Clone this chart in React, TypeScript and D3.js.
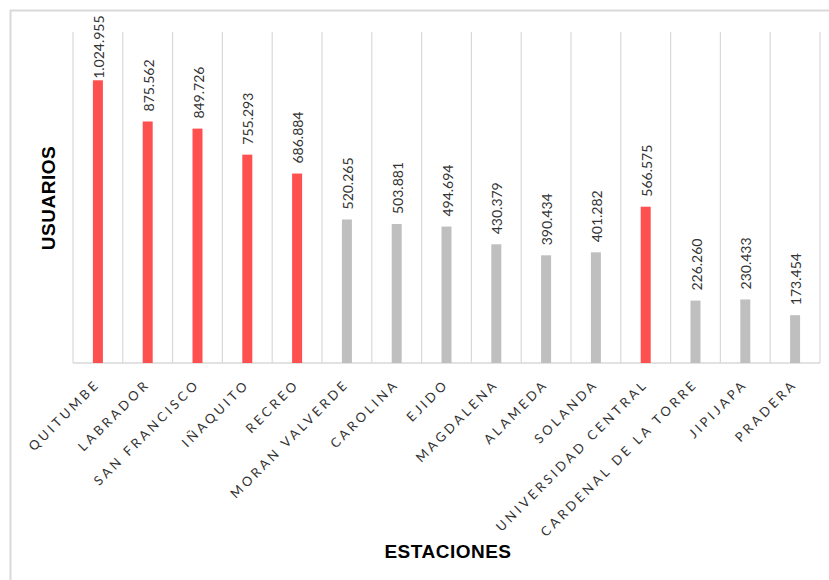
import React from "react";
import * as d3 from "d3";

const categories = [
  "QUITUMBE", "LABRADOR", "SAN FRANCISCO", "IÑAQUITO", "RECREO", "MORAN VALVERDE",
  "CAROLINA", "EJIDO", "MAGDALENA", "ALAMEDA", "SOLANDA", "UNIVERSIDAD CENTRAL",
  "CARDENAL DE LA TORRE", "JIPIJAPA", "PRADERA",
];
const values = [
  1024955, 875562, 849726, 755293, 686884, 520265, 503881, 494694, 430379, 390434,
  401282, 566575, 226260, 230433, 173454,
];
const highlighted = [
  true, true, true, true, true, false, false, false, false, false, false, true,
  false, false, false,
];
const yMax = 1200000;

const W = 829;
const H = 580;
const left = 73;
const right = 820;
const top = 32;
const bottom = 363;
const labelFont = 14;

const fmt = (v: number) => d3.format(",")(v).replace(/,/g, ".");
const approxLen = (s: string) =>
  s.split("").reduce((a, ch) => a + (ch === "." ? 0.25 : 0.58) * labelFont, 0);

export default function App() {
  const x = d3.scaleBand<string>().domain(categories).range([left, right]).paddingInner(0).paddingOuter(0);
  const y = d3.scaleLinear().domain([0, yMax]).range([bottom, top]);
  const bw = 10;
  const gridXs = categories.map((c) => x(c) as number).concat([right]);

  return (
    <svg
      width={W}
      height={H}
      style={{ position: "absolute", left: 0, top: 0, background: "#fff" }}
    >
      <rect x={10.5} y={10.5} width={W + 10} height={H + 10} fill="#fff" stroke="#D9D9D9" strokeWidth={2} />
      {gridXs.map((gx, i) => (
        <line key={i} x1={gx} x2={gx} y1={top} y2={bottom} stroke="#D9D9D9" strokeWidth={1.2} />
      ))}
      <line x1={left} x2={right} y1={bottom} y2={bottom} stroke="#D9D9D9" strokeWidth={1.5} />
      {categories.map((c, i) => {
        const cx = (x(c) as number) + x.bandwidth() / 2;
        const yv = y(values[i]);
        const label = fmt(values[i]);
        const ly = Math.max(yv - 10, 15 + approxLen(label));
        return (
          <g key={c}>
            <rect
              x={cx - bw / 2}
              y={yv}
              width={bw}
              height={bottom - yv}
              fill={highlighted[i] ? "#FF5050" : "#BFBFBF"}
            />
            <text
              transform={`translate(${cx + 2.5},${ly}) rotate(-90)`}
              fontFamily="Lato, 'Open Sans', sans-serif"
              fontSize={labelFont}
              fill="#333"
              dominantBaseline="middle"
              textAnchor="start"
            >
              {label}
            </text>
            <text
              transform={`translate(${cx + 3},${bottom + 22}) rotate(-45)`}
              fontFamily="Lato, 'Open Sans', sans-serif"
              fontSize={13}
              letterSpacing={3.2}
              fill="#333"
              textAnchor="end"
            >
              {c}
            </text>
          </g>
        );
      })}
      <text
        transform={`translate(55,198) rotate(-90)`}
        fontFamily="'Liberation Sans', Arial, sans-serif"
        fontWeight="bold"
        fontSize={19}
        letterSpacing={0.5}
        textAnchor="middle"
        fill="#000"
      >
        USUARIOS
      </text>
      <text
        x={448}
        y={558}
        fontFamily="'Liberation Sans', Arial, sans-serif"
        fontWeight="bold"
        fontSize={19}
        letterSpacing={0.5}
        textAnchor="middle"
        fill="#000"
      >
        ESTACIONES
      </text>
    </svg>
  );
}
